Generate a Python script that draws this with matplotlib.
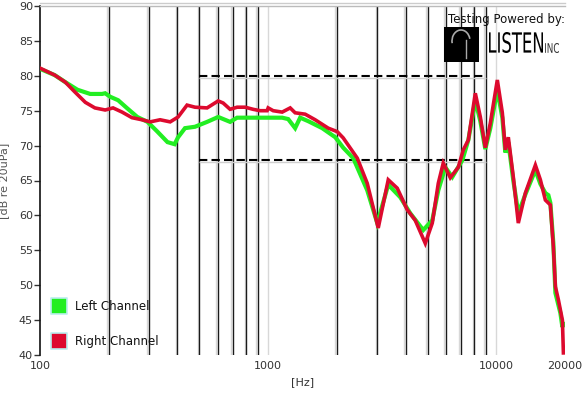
import matplotlib
matplotlib.use("Agg")
import matplotlib.pyplot as plt
from matplotlib.patches import Rectangle, PathPatch, Arc
from matplotlib.textpath import TextPath
from matplotlib.font_manager import FontProperties
from matplotlib.transforms import Affine2D, IdentityTransform

# ---------------- data ----------------
right_freq = [100, 116, 129, 142, 158, 174, 193, 209, 229, 253, 280, 304, 336, 372, 403,
              441, 478, 540, 604, 635, 681, 731, 793, 859, 922, 990, 1000, 1052, 1152,
              1249, 1313, 1453, 1607, 1833, 2008, 2133, 2458, 2718, 3037, 3360, 3679,
              4071, 4412, 4882, 5240, 5568, 5854, 6284, 6812, 7168, 7539, 8090, 8509,
              8949, 9412, 10102, 10625, 10952, 11287, 11870, 12484, 13405, 14832,
              15600, 16405, 17254, 17783, 18150, 18710, 19480, 19680]
right_db = [81.1, 80.1, 79.1, 77.7, 76.2, 75.4, 75.1, 75.4, 74.8, 74.0, 73.7, 73.4, 73.7,
            73.4, 74.1, 75.8, 75.5, 75.4, 76.4, 76.1, 75.2, 75.5, 75.5, 75.2, 75.0, 75.0,
            75.4, 75.0, 74.8, 75.4, 74.7, 74.5, 73.7, 72.5, 72.0, 71.1, 68.2, 64.6, 58.2,
            65.1, 63.9, 60.8, 59.3, 56.0, 58.9, 64.6, 67.5, 65.4, 66.9, 69.4, 70.8, 77.5,
            74.1, 69.7, 73.2, 79.4, 74.7, 69.4, 71.2, 65.5, 58.9, 63.2, 67.2, 65.1, 62.2,
            61.5, 55.5, 49.8, 47.9, 45.0, 40.3]

left_freq = [100, 116, 129, 146, 166, 187, 193, 203, 220, 240, 267, 296, 327, 362, 389,
             403, 432, 478, 540, 604, 681, 731, 859, 1000, 1152, 1224, 1313, 1381, 1498,
             1725, 1968, 2133, 2360, 2718, 3007, 3360, 3793, 4196, 4783, 5240, 5568,
             5975, 6413, 7095, 7539, 8090, 8509, 8949, 9412, 10102, 10625, 10952, 11287,
             11870, 12484, 13405, 14832, 15600, 16405, 16910, 17254, 17783, 18150,
             19090, 19480, 19680]
left_db = [81.0, 80.1, 79.1, 78.0, 77.4, 77.4, 77.5, 77.0, 76.5, 75.4, 74.1, 73.4, 72.0,
           70.5, 70.2, 71.2, 72.5, 72.7, 73.4, 74.1, 73.4, 74.0, 74.0, 74.0, 74.0, 73.8,
           72.5, 74.0, 73.5, 72.5, 71.2, 69.7, 68.2, 63.6, 58.9, 64.4, 62.6, 60.3, 57.9,
           59.3, 63.6, 66.9, 65.5, 67.9, 70.8, 76.5, 73.5, 69.5, 72.5, 78.0, 74.0, 69.0,
           70.5, 65.0, 60.3, 63.0, 66.5, 64.5, 63.2, 62.9, 61.8, 56.0, 48.9, 46.0, 44.0,
           44.5]

grid_freqs = [200, 300, 400, 500, 600, 700, 800, 900, 2000, 3000, 4000, 5000, 6000,
              7000, 8000, 9000]
faint_freqs = [1000, 10000]
xtick_vals = [100, 1000, 10000, 20000]
xtick_labels = ["100", "1000", "10000", "20000"]
ytick_vals = [40, 45, 50, 55, 60, 65, 70, 75, 80, 85, 90]
band_levels = [80, 68]
band_range = [500, 9000]
series_names = ["Left Channel", "Right Channel"]

# ---------------- figure ----------------
W, H = 583, 395
fig = plt.figure(figsize=(W / 100, H / 100), dpi=100)
ax = fig.add_axes([40 / W, 1 - 355 / H, 525 / W, 349 / H])
ax.set_xscale("log")
ax.set_xlim(100, 20000)
ax.set_ylim(40, 90)

# vertical grid lines
for f in grid_freqs:
    ax.axvline(f * 0.985, color="#d8d8d8", lw=1.0, zorder=1)
    ax.axvline(f, color="#1a1a1a", lw=1.0, zorder=2)
for f in faint_freqs:
    ax.axvline(f, color="#d8d8d8", lw=1.0, zorder=1)

# dashed band lines
for lvl in band_levels:
    ax.hlines(lvl - 0.35, band_range[0], band_range[1], colors="#d0d0d0", lw=1.0, zorder=2)
    ax.hlines(lvl, band_range[0], band_range[1], colors="black", lw=1.5,
              linestyles=(0, (4, 2)), zorder=3)

# curves
ax.plot(left_freq, left_db, color="#22ee22", lw=3.0, zorder=4, solid_joinstyle="miter")
ax.plot(right_freq, right_db, color="#dd0a2e", lw=2.6, zorder=5, solid_joinstyle="miter")

# axes style
for s in ["right", "bottom"]:
    ax.spines[s].set_visible(False)
ax.spines["top"].set_color("#bbbbbb")
ax.spines["top"].set_linewidth(1.0)
ax.spines["left"].set_color("#111111")
ax.spines["left"].set_linewidth(1.2)
ax.set_yticks(ytick_vals)
ax.set_yticklabels([str(v) for v in ytick_vals])
ax.set_xticks(xtick_vals)
ax.set_xticklabels(xtick_labels)
ax.xaxis.set_minor_locator(matplotlib.ticker.NullLocator())
ax.tick_params(axis="y", length=4, width=1, color="#333333", labelsize=8,
               labelcolor="#333333", pad=1)
ax.tick_params(axis="x", length=0, labelsize=8, labelcolor="#333333", pad=4)
ax.set_xlabel("[Hz]", fontsize=8, color="#333333", labelpad=5)
ax.set_ylabel("[dB re 20uPa]", fontsize=8, color="#555555", labelpad=0)
ax.yaxis.set_label_coords(-0.058, 0.5)

# second top border line
fig.add_artist(plt.Line2D([40 / W, 565 / W], [1 - 3 / H, 1 - 3 / H],
                          color="#cccccc", lw=1.0))

# legend (manual)
leg_y = [0.140, 0.040]
leg_c = ["#22ee22", "#dd0a2e"]
for yy, cc, nm in zip(leg_y, leg_c, series_names):
    ax.scatter([0.036], [yy], transform=ax.transAxes, marker="s", s=120,
               color=cc, edgecolors="#bbeeee", linewidths=1.2, zorder=6, clip_on=False)
    ax.text(0.067, yy, nm, transform=ax.transAxes, fontsize=8.5,
            va="center", ha="left", color="#111111", zorder=6)

# "Testing Powered by" logo
fig.text(448 / W, 1 - 19 / H, "Testing Powered by:", fontsize=8.5, color="#111111",
         va="center", ha="left")
fig.add_artist(Rectangle((444 / W, 1 - 62 / H), 35 / W, 35 / H,
                         transform=fig.transFigure, facecolor="black",
                         edgecolor="none"))
fig.add_artist(Arc((461 / W, 1 - 41 / H), 18 / W, 22 / H,
                   theta1=20, theta2=200, transform=fig.transFigure,
                   color="#aaaaaa", lw=1.2))
fig.add_artist(plt.Line2D([466 / W, 466 / W], [1 - 40 / H, 1 - 58 / H],
                          color="#aaaaaa", lw=1.0))


def fitted_text(s, x0, y0, x1, y1, family, color):
    tp = TextPath((0, 0), s, size=10, prop=FontProperties(family=family))
    bb = tp.get_extents()
    sx = (x1 - x0) / bb.width
    sy = (y1 - y0) / bb.height
    tr = Affine2D().translate(-bb.x0, -bb.y0).scale(sx, sy).translate(x0, H - y1)
    p = PathPatch(tr.transform_path(tp), facecolor=color, edgecolor="none",
                  transform=IdentityTransform())
    fig.add_artist(p)


fitted_text("LISTEN", 489, 32, 543, 53, "Liberation Sans Narrow", "black")
fitted_text("INC", 545, 43, 559, 53, "Liberation Sans Narrow", "#333333")

fig.savefig("out.png", dpi=100)
